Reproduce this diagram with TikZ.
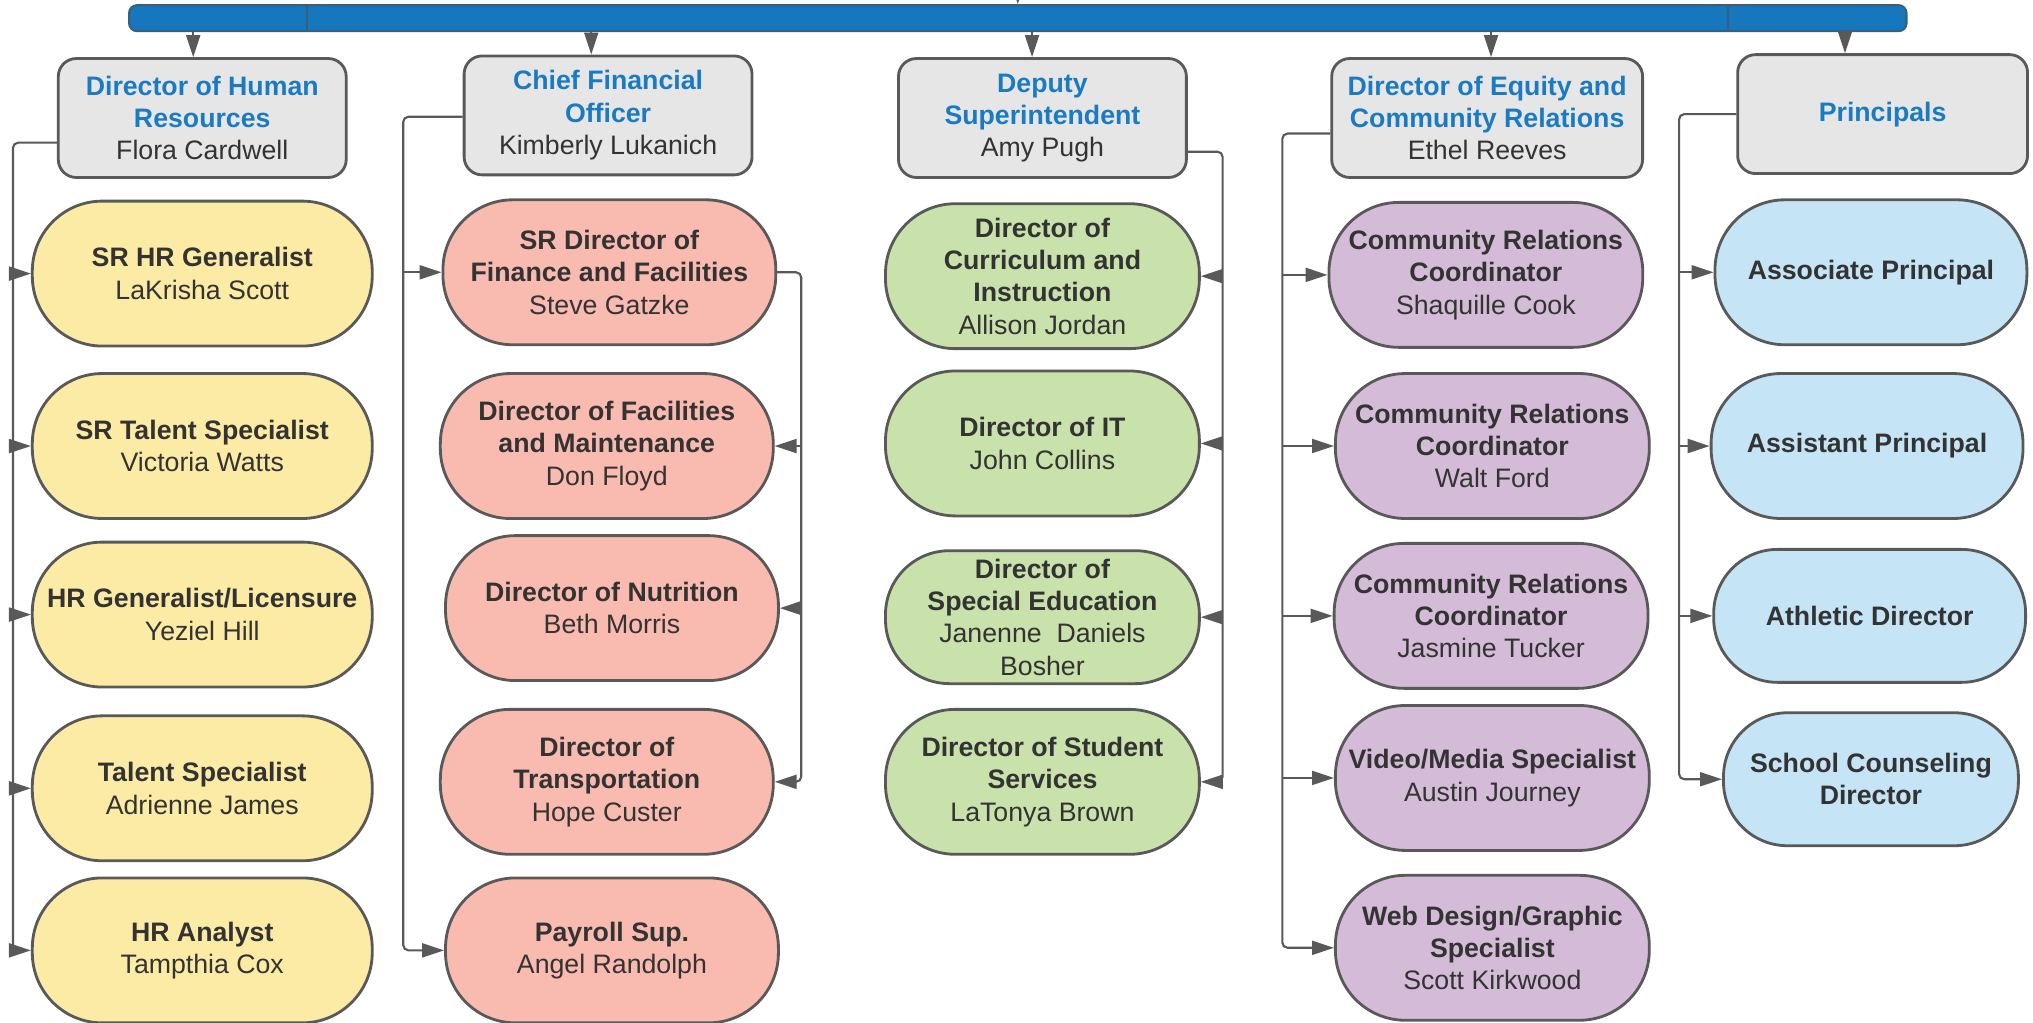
\documentclass[tikz,border=0pt]{standalone}
\usepackage{fontspec}
\setmainfont{Liberation Sans}
\usetikzlibrary{arrows.meta}
\definecolor{linegray}{HTML}{595959}
\definecolor{textdark}{HTML}{333333}
\definecolor{titleblue}{HTML}{1B7BC0}
\definecolor{headgray}{HTML}{E6E6E6}
\definecolor{barblue}{HTML}{1677BD}
\definecolor{bardark}{HTML}{35607F}
\definecolor{hryellow}{HTML}{FCEBA5}
\definecolor{cfopink}{HTML}{F9BAB0}
\definecolor{depgreen}{HTML}{C9E1AA}
\definecolor{eqpurple}{HTML}{D4BBD7}
\definecolor{prinblue}{HTML}{C5E4F6}
\begin{document}
\begin{tikzpicture}[x=0.012966cm, y=-0.012966cm,
	every node/.style={font=\fontsize{7.6pt}{9.2pt}\selectfont, text=textdark, align=center, inner sep=0pt},
	bar/.style={draw=bardark, line width=0.6pt, fill=barblue, rounded corners=0.08cm, minimum width=17.78cm, minimum height=0.26cm},
	head/.style={draw=linegray, line width=0.8pt, fill=headgray, rounded corners=0.18cm, minimum width=2.88cm, minimum height=1.19cm},
	pill/.style={draw=linegray, line width=0.8pt, rounded corners=0.7cm, minimum height=1.45cm},
	short/.style={minimum height=1.33cm, rounded corners=0.64cm},
	hrpill/.style={pill, fill=hryellow, minimum width=3.40cm},
	cfopill/.style={pill, fill=cfopink, minimum width=3.33cm},
	deppill/.style={pill, fill=depgreen, minimum width=3.14cm},
	eqpill/.style={pill, fill=eqpurple, minimum width=3.14cm},
	prinpill/.style={pill, fill=prinblue, minimum width=3.12cm},
	link/.style={draw=linegray, line width=0.6pt, rounded corners=1.5pt},
	ahead/.style={-{Triangle[length=2.2mm, width=1.4mm]}}]
	
	\useasboundingbox (0,0) rectangle (1568,789);
	
	\node[bar] (bar) at (785,14) {};
	\draw[bardark, line width=0.5pt] (bar.north -| 237,0) -- (bar.south -| 237,0);
	\draw[bardark, line width=0.5pt] (bar.north -| 1333,0) -- (bar.south -| 1333,0);
	\coordinate (top) at (785,-25);
	\draw[link, ahead] (top) -- (bar.north);
	
	\node[head] (hr) at (156,91) {\textcolor{titleblue}{\textbf{Director of Human}}\\\textcolor{titleblue}{\textbf{Resources}}\\Flora Cardwell};
	\node[head] (cfo) at (469,89) {\textcolor{titleblue}{\textbf{Chief Financial}}\\\textcolor{titleblue}{\textbf{Officer}}\\Kimberly Lukanich};
	\node[head] (dep) at (804,91) {\textcolor{titleblue}{\textbf{Deputy}}\\\textcolor{titleblue}{\textbf{Superintendent}}\\Amy Pugh};
	\node[head, minimum width=3.11cm] (eq) at (1147,91) {\textcolor{titleblue}{\textbf{Director of Equity and}}\\\textcolor{titleblue}{\textbf{Community Relations}}\\Ethel Reeves};
	\node[head, minimum width=2.90cm] (prin) at (1452,88) {\textcolor{titleblue}{\textbf{Principals}}};
	
	\draw[link, ahead] (bar.south -| 149,0) -- (149,0 |- hr.north);
	\draw[link, ahead] (bar.south -| 456,0) -- (456,0 |- cfo.north);
	\draw[link, ahead] (bar.south -| 796,0) -- (796,0 |- dep.north);
	\draw[link, ahead] (bar.south -| 1150,0) -- (1150,0 |- eq.north);
	\draw[link, ahead] (bar.south -| 1423,0) -- (1423,0 |- prin.north);
	
	\node[hrpill] (hr1) at (156,211) {\textbf{SR HR Generalist}\\LaKrisha Scott};
	\node[hrpill] (hr2) at (156,344) {\textbf{SR Talent Specialist}\\Victoria Watts};
	\node[hrpill] (hr3) at (156,474) {\textbf{HR Generalist/Licensure}\\Yeziel Hill};
	\node[hrpill] (hr4) at (156,608) {\textbf{Talent Specialist}\\Adrienne James};
	\node[hrpill] (hr5) at (156,733) {\textbf{HR Analyst}\\Tampthia Cox};
	
	\node[cfopill] (cfo1) at (470,210) {\textbf{SR Director of}\\\textbf{Finance and Facilities}\\Steve Gatzke};
	\node[cfopill] (cfo2) at (468,344) {\textbf{Director of Facilities}\\\textbf{and Maintenance}\\Don Floyd};
	\node[cfopill] (cfo3) at (472,469) {\textbf{Director of Nutrition}\\Beth Morris};
	\node[cfopill] (cfo4) at (468,603) {\textbf{Director of}\\\textbf{Transportation}\\Hope Custer};
	\node[cfopill] (cfo5) at (472,733) {\textbf{Payroll Sup.}\\Angel Randolph};
	
	\node[deppill] (dep1) at (804,213) {\textbf{Director of}\\\textbf{Curriculum and}\\\textbf{Instruction}\\Allison Jordan};
	\node[deppill] (dep2) at (804,342) {\textbf{Director of IT}\\John Collins};
	\node[deppill, short] (dep3) at (804,476) {\textbf{Director of}\\\textbf{Special Education}\\Janenne\ \ Daniels\\Bosher};
	\node[deppill] (dep4) at (804,603) {\textbf{Director of Student}\\\textbf{Services}\\LaTonya Brown};
	
	\node[eqpill] (eq1) at (1146,212) {\textbf{Community Relations}\\\textbf{Coordinator}\\Shaquille Cook};
	\node[eqpill] (eq2) at (1151,344) {\textbf{Community Relations}\\\textbf{Coordinator}\\Walt Ford};
	\node[eqpill] (eq3) at (1150,475) {\textbf{Community Relations}\\\textbf{Coordinator}\\Jasmine Tucker};
	\node[eqpill] (eq4) at (1151,600) {\textbf{Video/Media Specialist}\\Austin Journey};
	\node[eqpill] (eq5) at (1151,731) {\textbf{Web Design/Graphic}\\\textbf{Specialist}\\Scott Kirkwood};
	
	\node[prinpill] (pr1) at (1443,210) {\textbf{Associate Principal}};
	\node[prinpill] (pr2) at (1440,344) {\textbf{Assistant Principal}};
	\node[prinpill, short] (pr3) at (1442,475) {\textbf{Athletic Director}};
	\node[prinpill, short, minimum width=2.95cm] (pr4) at (1443,601) {\textbf{School Counseling}\\\textbf{Director}};
	
	\coordinate (hrt) at (10,110);
	\draw[link, ahead] (hr.west |- hrt) -- (hrt) |- (hr5.west);
	\draw[link, ahead] (hrt |- hr1.west) -- (hr1.west);
	\draw[link, ahead] (hrt |- hr2.west) -- (hr2.west);
	\draw[link, ahead] (hrt |- hr3.west) -- (hr3.west);
	\draw[link, ahead] (hrt |- hr4.west) -- (hr4.west);
	
	\coordinate (cfot) at (311,90);
	\draw[link, ahead] (cfo.west |- cfot) -- (cfot) |- (cfo5.west);
	\draw[link, ahead] (cfot |- cfo1.west) -- (cfo1.west);
	\coordinate (cfor) at (618,210);
	\draw[link, ahead] (cfo1.east) -| (cfor |- cfo4.east) -- (cfo4.east);
	\draw[link, ahead] (cfor |- cfo2.east) -- (cfo2.east);
	\draw[link, ahead] (cfor |- cfo3.east) -- (cfo3.east);
	
	\coordinate (dept) at (943,117);
	\draw[link, ahead] (dep.east |- dept) -- (dept) |- (dep4.east);
	\draw[link, ahead] (dept |- dep1.east) -- (dep1.east);
	\draw[link, ahead] (dept |- dep2.east) -- (dep2.east);
	\draw[link, ahead] (dept |- dep3.east) -- (dep3.east);
	
	\coordinate (eqt) at (989,103);
	\draw[link, ahead] (eq.west |- eqt) -- (eqt) |- (eq5.west);
	\draw[link, ahead] (eqt |- eq1.west) -- (eq1.west);
	\draw[link, ahead] (eqt |- eq2.west) -- (eq2.west);
	\draw[link, ahead] (eqt |- eq3.west) -- (eq3.west);
	\draw[link, ahead] (eqt |- eq4.west) -- (eq4.west);
	
	\coordinate (prt) at (1295,88);
	\draw[link, ahead] (prin.west |- prt) -- (prt) |- (pr4.west);
	\draw[link, ahead] (prt |- pr1.west) -- (pr1.west);
	\draw[link, ahead] (prt |- pr2.west) -- (pr2.west);
	\draw[link, ahead] (prt |- pr3.west) -- (pr3.west);
	
\end{tikzpicture}
\end{document}
